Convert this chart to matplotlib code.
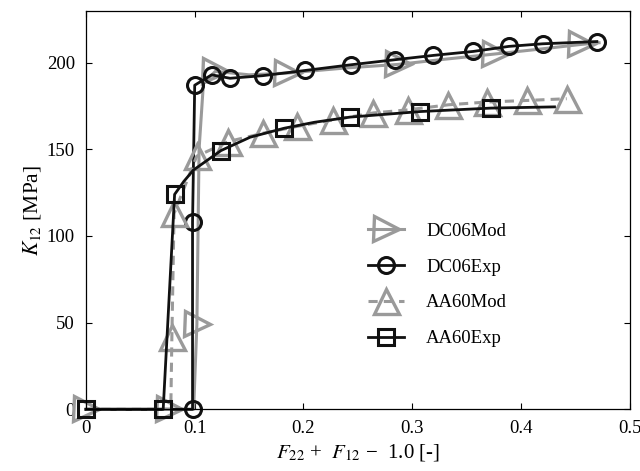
import matplotlib
matplotlib.use('Agg')
import matplotlib.pyplot as plt
from matplotlib.ticker import FuncFormatter

# curves, markers shown at the index lists
dc06_mod_x = [0, 0.076, 0.099, 0.102, 0.104, 0.108, 0.119, 0.15, 0.185, 0.24, 0.287, 0.33, 0.376, 0.42, 0.455, 0.472]
dc06_mod_y = [0, 0, 0, 49, 150, 188, 195, 193, 194, 197, 199, 202, 205, 208, 210.5, 211.5]
dc06_mod_marks = [0, 1, 3, 6, 8, 10, 12, 14]

dc06_exp_x = [0, 0.098, 0.098, 0.1, 0.1156, 0.1325, 0.1625, 0.2015, 0.2438, 0.284, 0.3195, 0.3563, 0.389, 0.42, 0.47]
dc06_exp_y = [0, 0, 108, 187, 193, 191, 192.5, 195.5, 198.8, 201.7, 204.2, 206.5, 209.4, 210.9, 212.2]
dc06_exp_marks = list(range(1, 15))

aa60_mod_x = [0, 0.078, 0.079, 0.081, 0.1018, 0.131, 0.163, 0.1938, 0.2275, 0.2643, 0.2965, 0.3333, 0.3686, 0.4054, 0.4422]
aa60_mod_y = [0, 0, 42, 113, 146, 154.5, 159.3, 163.2, 167, 171, 172.8, 175.7, 177.3, 178.2, 179.2]
aa60_mod_marks = list(range(2, 15))

aa60_exp_x = [0, 0.071, 0.0815, 0.09, 0.0987, 0.1242, 0.151, 0.1825, 0.21, 0.2429, 0.3073, 0.3726, 0.431]
aa60_exp_y = [0, 0, 124, 131.5, 138, 149.3, 157, 162.2, 165.6, 168.6, 171.8, 173.8, 174.5]
aa60_exp_marks = [0, 1, 2, 5, 7, 9, 10, 11]

labels = ['DC06Mod', 'DC06Exp', 'AA60Mod', 'AA60Exp']
x_ticks = [0, 0.1, 0.2, 0.3, 0.4, 0.5]
y_ticks = [0, 50, 100, 150, 200]

gray = '#9a9a9a'
dark = '#111111'

plt.rcParams['font.family'] = ['Liberation Serif', 'DejaVu Serif']
plt.rcParams['mathtext.fontset'] = 'stix'
plt.rcParams['font.size'] = 13.5

fig = plt.figure(figsize=(6.4, 4.71), dpi=100)
ax = fig.add_axes([0.1344, 0.131, 0.8492, 0.8463])

ax.plot(dc06_mod_x, dc06_mod_y, color=gray, lw=2.2, marker='>', ms=18, mew=2.4,
        mfc='none', mec=gray, markevery=dc06_mod_marks, label=labels[0], clip_on=False)
ax.plot(dc06_exp_x, dc06_exp_y, color=dark, lw=2.0, marker='o', ms=11.5, mew=2.2,
        mfc='none', mec=dark, markevery=dc06_exp_marks, label=labels[1], clip_on=False)
ax.plot(aa60_mod_x, aa60_mod_y, color=gray, lw=2.2, ls=(0, (3, 2)), marker='^', ms=18, mew=2.4,
        mfc='none', mec=gray, markevery=aa60_mod_marks, label=labels[2], clip_on=False)
ax.plot(aa60_exp_x, aa60_exp_y, color=dark, lw=2.0, marker='s', ms=12, mew=2.2,
        mfc='none', mec=dark, markevery=aa60_exp_marks, label=labels[3], clip_on=False)

ax.set_xlim(0, 0.5)
ax.set_ylim(0, 230)
ax.set_xticks(x_ticks)
ax.set_yticks(y_ticks)
ax.xaxis.set_major_formatter(FuncFormatter(lambda v, p: '%g' % v))
ax.tick_params(direction='in', top=True, right=True, length=4, width=0.8, pad=8)
for s in ax.spines.values():
    s.set_linewidth(0.9)

ax.set_xlabel(r'$F_{22}$ +  $F_{12}$ −  1.0 [-]', fontsize=15, labelpad=3)
ax.set_ylabel(r'$K_{12}$ [MPa]', fontsize=15.5, labelpad=3)

ax.legend(loc='center left', bbox_to_anchor=(0.519, 0.312), frameon=False,
          handlelength=1.9, handletextpad=1.2, labelspacing=1.0,
          borderpad=0, borderaxespad=0)

fig.savefig('out.png', dpi=100)
